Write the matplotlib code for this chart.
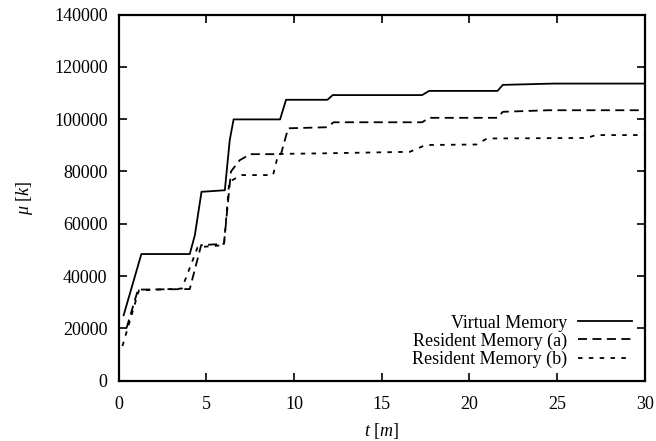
import matplotlib
matplotlib.use("Agg")
import matplotlib.pyplot as plt

# values (time in minutes, memory in k)
t_virtual = [0.28, 1.29, 4.05, 4.34, 4.72, 6.05, 6.33, 6.55, 9.2, 9.54,
             11.9, 12.2, 17.3, 17.7, 21.6, 21.9, 24.8, 30]
virtual = [25000, 48400, 48400, 55600, 72200, 72800, 92000, 99900, 99900, 107400,
           107400, 109200, 109200, 110800, 110800, 113100, 113600, 113600]

t_res_a = [0.44, 1.1, 4.05, 4.7, 6.0, 6.4, 6.9, 7.5, 9.25, 9.66,
           11.9, 12.25, 17.3, 17.7, 21.6, 21.9, 24.5, 30]
res_a = [20000, 34800, 35000, 51800, 52300, 80000, 84300, 86600, 86600, 96500,
         96900, 98800, 98800, 100500, 100500, 102800, 103400, 103400]

t_res_b = [0.21, 1.15, 3.6, 4.5, 6.0, 6.3, 7.0, 8.8, 9.1, 11.5,
           16.6, 17.5, 20.4, 21.0, 26.7, 27.2, 30]
res_b = [13200, 34500, 35200, 51000, 51800, 76000, 78600, 78600, 86700, 86900,
         87500, 90100, 90300, 92600, 92800, 93900, 93900]

x_ticks = [0, 5, 10, 15, 20, 25, 30]
y_ticks = [0, 20000, 40000, 60000, 80000, 100000, 120000, 140000]

plt.rcParams['font.family'] = ['Liberation Serif', 'DejaVu Serif']
plt.rcParams['mathtext.fontset'] = 'custom'
plt.rcParams['mathtext.it'] = 'Liberation Serif:italic'
plt.rcParams['mathtext.rm'] = 'Liberation Serif'

fig = plt.figure(figsize=(6.56, 4.41), dpi=100)
ax = fig.add_axes([0.181, 0.137, 0.802, 0.83])

ax.plot(t_virtual, virtual, color='black', lw=1.3, ls='-', label='Virtual Memory')
ax.plot(t_res_a, res_a, color='black', lw=1.3, ls=(0, (5, 3)), label='Resident Memory (a)')
ax.plot(t_res_b, res_b, color='black', lw=1.3, ls=(0, (2.5, 3.5)), label='Resident Memory (b)')

ax.set_xlim(0, 30)
ax.set_ylim(0, 140000)
ax.set_xticks(x_ticks)
ax.set_yticks(y_ticks)
ax.tick_params(direction='in', top=True, right=True, length=6, width=1.2,
               labelsize=13)
ax.tick_params(axis='x', pad=11)
ax.tick_params(axis='y', pad=8)
for s in ax.spines.values():
    s.set_linewidth(1.6)

ax.set_xlabel(r'$t\ [m]$', fontsize=13, labelpad=6)
ax.set_ylabel(r'$\mu\ [k]$', fontsize=13, labelpad=14)

leg = ax.legend(loc='lower right', frameon=False, markerfirst=False, fontsize=13,
                handlelength=3.0, handletextpad=0.6, labelspacing=0.05,
                borderaxespad=0.3)

fig.savefig('out.png', dpi=100)
